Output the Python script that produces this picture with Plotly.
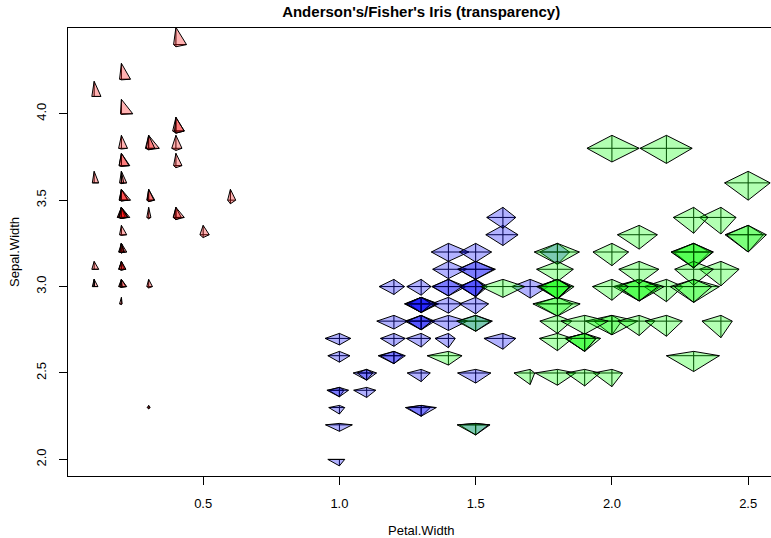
import numpy as np
import plotly.graph_objects as go

# Anderson's / Fisher's iris data (150 flowers)
sepal_length = [5.1,4.9,4.7,4.6,5.0,5.4,4.6,5.0,4.4,4.9,5.4,4.8,4.8,4.3,5.8,5.7,5.4,5.1,5.7,5.1,
                5.4,5.1,4.6,5.1,4.8,5.0,5.0,5.2,5.2,4.7,4.8,5.4,5.2,5.5,4.9,5.0,5.5,4.9,4.4,5.1,
                5.0,4.5,4.4,5.0,5.1,4.8,5.1,4.6,5.3,5.0,
                7.0,6.4,6.9,5.5,6.5,5.7,6.3,4.9,6.6,5.2,5.0,5.9,6.0,6.1,5.6,6.7,5.6,5.8,6.2,5.6,
                5.9,6.1,6.3,6.1,6.4,6.6,6.8,6.7,6.0,5.7,5.5,5.5,5.8,6.0,5.4,6.0,6.7,6.3,5.6,5.5,
                5.5,6.1,5.8,5.0,5.6,5.7,5.7,6.2,5.1,5.7,
                6.3,5.8,7.1,6.3,6.5,7.6,4.9,7.3,6.7,7.2,6.5,6.4,6.8,5.7,5.8,6.4,6.5,7.7,7.7,6.0,
                6.9,5.6,7.7,6.3,6.7,7.2,6.2,6.1,6.4,7.2,7.4,7.9,6.4,6.3,6.1,7.7,6.3,6.4,6.0,6.9,
                6.7,6.9,5.8,6.8,6.7,6.7,6.3,6.5,6.2,5.9]
sepal_width = [3.5,3.0,3.2,3.1,3.6,3.9,3.4,3.4,2.9,3.1,3.7,3.4,3.0,3.0,4.0,4.4,3.9,3.5,3.8,3.8,
               3.4,3.7,3.6,3.3,3.4,3.0,3.4,3.5,3.4,3.2,3.1,3.4,4.1,4.2,3.1,3.2,3.5,3.6,3.0,3.4,
               3.5,2.3,3.2,3.5,3.8,3.0,3.8,3.2,3.7,3.3,
               3.2,3.2,3.1,2.3,2.8,2.8,3.3,2.4,2.9,2.7,2.0,3.0,2.2,2.9,2.9,3.1,3.0,2.7,2.2,2.5,
               3.2,2.8,2.5,2.8,2.9,3.0,2.8,3.0,2.9,2.6,2.4,2.4,2.7,2.7,3.0,3.4,3.1,2.3,3.0,2.5,
               2.6,3.0,2.6,2.3,2.7,3.0,2.9,2.9,2.5,2.8,
               3.3,2.7,3.0,2.9,3.0,3.0,2.5,2.9,2.5,3.6,3.2,2.7,3.0,2.5,2.8,3.2,3.0,3.8,2.6,2.2,
               3.2,2.8,2.8,2.7,3.3,3.2,2.8,3.0,2.8,3.0,2.8,3.8,2.8,2.8,2.6,3.0,3.4,3.1,3.0,3.1,
               3.1,3.1,2.7,3.2,3.3,3.0,2.5,3.0,3.4,3.0]
petal_length = [1.4,1.4,1.3,1.5,1.4,1.7,1.4,1.5,1.4,1.5,1.5,1.6,1.4,1.1,1.2,1.5,1.3,1.4,1.7,1.5,
                1.7,1.5,1.0,1.7,1.9,1.6,1.6,1.5,1.4,1.6,1.6,1.5,1.5,1.4,1.5,1.2,1.3,1.4,1.3,1.5,
                1.3,1.3,1.3,1.6,1.9,1.4,1.6,1.4,1.5,1.4,
                4.7,4.5,4.9,4.0,4.6,4.5,4.7,3.3,4.6,3.9,3.5,4.2,4.0,4.7,3.6,4.4,4.5,4.1,4.5,3.9,
                4.8,4.0,4.9,4.7,4.3,4.4,4.8,5.0,4.5,3.5,3.8,3.7,3.9,5.1,4.5,4.5,4.7,4.4,4.1,4.0,
                4.4,4.6,4.0,3.3,4.2,4.2,4.2,4.3,3.0,4.1,
                6.0,5.1,5.9,5.6,5.8,6.6,4.5,6.3,5.8,6.1,5.1,5.3,5.5,5.0,5.1,5.3,5.5,6.7,6.9,5.0,
                5.7,4.9,6.7,4.9,5.7,6.0,4.8,4.9,5.6,5.8,6.1,6.4,5.6,5.1,5.6,6.1,5.6,5.5,4.8,5.4,
                5.6,5.1,5.1,5.9,5.7,5.2,5.0,5.2,5.4,5.1]
petal_width = [0.2,0.2,0.2,0.2,0.2,0.4,0.3,0.2,0.2,0.1,0.2,0.2,0.1,0.1,0.2,0.4,0.4,0.3,0.3,0.3,
               0.2,0.4,0.2,0.5,0.2,0.2,0.4,0.2,0.2,0.2,0.2,0.4,0.1,0.2,0.2,0.2,0.2,0.1,0.2,0.2,
               0.3,0.3,0.2,0.6,0.4,0.3,0.2,0.2,0.2,0.2,
               1.4,1.5,1.5,1.3,1.5,1.3,1.6,1.0,1.3,1.4,1.0,1.5,1.0,1.4,1.3,1.4,1.5,1.0,1.5,1.1,
               1.8,1.3,1.5,1.2,1.3,1.4,1.4,1.7,1.5,1.0,1.1,1.0,1.2,1.6,1.5,1.6,1.5,1.3,1.3,1.3,
               1.2,1.4,1.2,1.0,1.3,1.2,1.3,1.3,1.1,1.3,
               2.5,1.9,2.1,1.8,2.2,2.1,1.7,1.8,1.8,2.5,2.0,1.9,2.1,2.0,2.4,2.3,1.8,2.2,2.3,1.5,
               2.3,2.0,2.0,1.8,2.1,1.8,1.8,1.8,2.1,1.6,1.9,2.0,2.2,1.5,1.4,2.3,2.4,1.8,1.8,2.1,
               2.4,2.3,1.9,2.3,2.5,2.3,1.9,2.0,2.3,1.8]
species = ["setosa"] * 50 + ["versicolor"] * 50 + ["virginica"] * 50

species_fill = {"setosa": "rgba(255,0,0,0.3)",
                "versicolor": "rgba(0,0,255,0.3)",
                "virginica": "rgba(0,255,0,0.3)"}

x_ticks = [0.5, 1.0, 1.5, 2.0, 2.5]
y_ticks = [2.0, 2.5, 3.0, 3.5, 4.0]

RAY_LEN = 0.1  # star ray length (user units) for a scaled value of 1


def scale01(v):
    v = np.asarray(v, dtype=float)
    return (v - v.min()) / (v.max() - v.min())


s_sl = scale01(sepal_length)
s_sw = scale01(sepal_width)
s_pl = scale01(petal_length)
s_pw = scale01(petal_width)

fig = go.Figure()
for i in range(len(species)):
    x0 = petal_width[i]
    y0 = sepal_width[i]
    # rays: right = Sepal.Length, up = Sepal.Width, left = Petal.Length, down = Petal.Width
    vx = [x0 + RAY_LEN * s_sl[i], x0, x0 - RAY_LEN * s_pl[i], x0]
    vy = [y0, y0 + RAY_LEN * s_sw[i], y0, y0 - RAY_LEN * s_pw[i]]
    rx, ry = [], []
    for a, b in zip(vx, vy):
        rx += [x0, a, None]
        ry += [y0, b, None]
    fig.add_trace(go.Scatter(x=rx, y=ry, mode="lines",
                             line=dict(color="black", width=1),
                             hoverinfo="skip", showlegend=False))
    fig.add_trace(go.Scatter(x=vx + [vx[0]], y=vy + [vy[0]], mode="lines",
                             fill="toself", fillcolor=species_fill[species[i]],
                             line=dict(color="black", width=1),
                             name=species[i], showlegend=False))

FONT = "Liberation Sans, Arial, Helvetica, sans-serif"
L, T, B = 68, 28, 62
W, H = 771, 538
PX_PER_X = 272.5
x_lo = 0.004
x_hi = x_lo + (W - L) / PX_PER_X
plot_center_px = L + (2.596 - x_lo) * PX_PER_X / 2

fig.update_layout(
    width=W, height=H,
    margin=dict(l=L, r=0, t=T, b=B, pad=0),
    paper_bgcolor="white", plot_bgcolor="white",
    font=dict(family=FONT, size=13, color="black"),
    title=dict(text="<b>Anderson's/Fisher's Iris (transparency)</b>",
               font=dict(family=FONT, size=15, color="black"),
               x=(plot_center_px) / W, xref="container", xanchor="center",
               y=1 - 12 / H, yref="container", yanchor="middle"),
    xaxis=dict(range=[x_lo, x_hi], tickvals=x_ticks,
               ticktext=[f"{v:.1f}" for v in x_ticks],
               showgrid=False, zeroline=False, showline=True, mirror=True,
               linecolor="black", linewidth=1,
               ticks="outside", ticklen=8, tickcolor="black", tickwidth=1,
               ticklabelstandoff=7,
               tickfont=dict(family=FONT, size=13, color="black")),
    yaxis=dict(range=[1.904, 4.496], tickvals=y_ticks,
               ticktext=[f"{v:.1f}" for v in y_ticks], tickangle=-90,
               showgrid=False, zeroline=False, showline=True, mirror=False,
               linecolor="black", linewidth=1,
               ticks="outside", ticklen=8, tickcolor="black", tickwidth=1,
               ticklabelstandoff=8,
               tickfont=dict(family=FONT, size=13, color="black")),
    annotations=[
        dict(text="Petal.Width", xref="paper", yref="paper",
             x=(plot_center_px - L) / (W - L), y=-(530 - (H - B)) / (H - T - B),
             xanchor="center", yanchor="middle", showarrow=False,
             font=dict(family=FONT, size=13, color="black")),
        dict(text="Sepal.Width", xref="paper", yref="paper",
             x=-(L - 14) / (W - L), y=0.5, textangle=-90,
             xanchor="center", yanchor="middle", showarrow=False,
             font=dict(family=FONT, size=13, color="black")),
    ],
)

fig.write_html("out.html")
